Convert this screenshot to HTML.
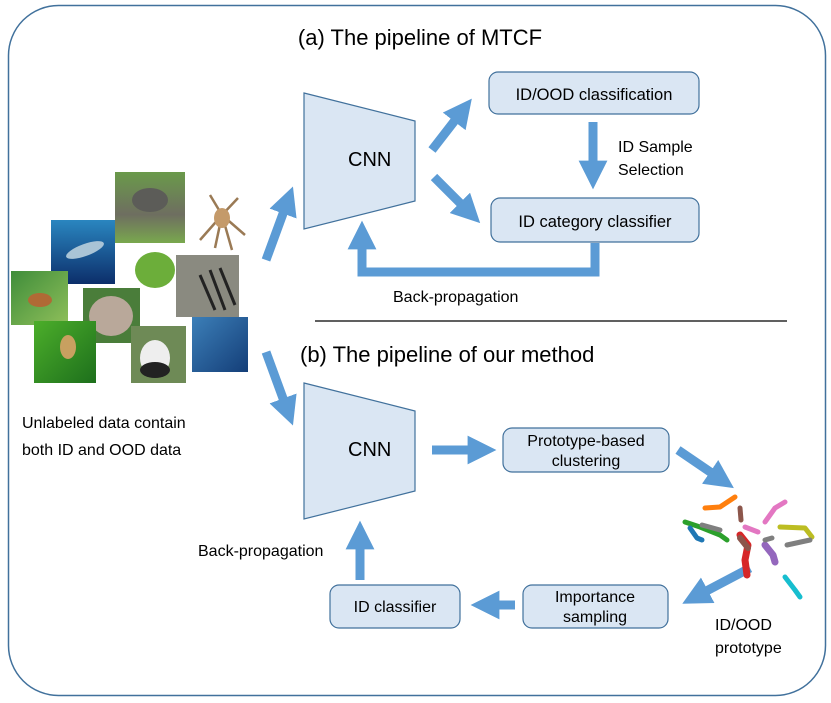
<!DOCTYPE html>
<html><head><meta charset="utf-8"><style>
body{margin:0;background:#fff;}
svg{display:block;font-family:"Liberation Sans",Calibri,sans-serif;}
</style></head><body>
<svg width="831" height="703" viewBox="0 0 831 703" xmlns="http://www.w3.org/2000/svg">
<defs>
<marker id="ah" viewBox="0 0 10 10" refX="5" refY="5" markerWidth="3.2" markerHeight="3.2" orient="auto" markerUnits="strokeWidth"><path d="M0,0 L10,5 L0,10 z" fill="#5b9bd5"/></marker>
<linearGradient id="g1" x1="0" y1="0" x2="0" y2="1"><stop offset="0" stop-color="#6a9a4a"/><stop offset="0.6" stop-color="#6e6e60"/><stop offset="1" stop-color="#79a84e"/></linearGradient>
<linearGradient id="g2" x1="0" y1="0" x2="0" y2="1"><stop offset="0" stop-color="#2a86c0"/><stop offset="1" stop-color="#0c2e6a"/></linearGradient>
<linearGradient id="g3" x1="0" y1="0" x2="1" y2="1"><stop offset="0" stop-color="#3f8d3a"/><stop offset="1" stop-color="#8fbf5a"/></linearGradient>
<linearGradient id="g4" x1="0" y1="0" x2="1" y2="1"><stop offset="0" stop-color="#4cae2a"/><stop offset="1" stop-color="#1d6f1c"/></linearGradient>
<linearGradient id="g5" x1="0" y1="0" x2="1" y2="1"><stop offset="0" stop-color="#3c7fb8"/><stop offset="1" stop-color="#143e78"/></linearGradient>
</defs>
<rect x="8.5" y="5.5" width="817" height="690" rx="50" fill="none" stroke="#41719c" stroke-width="1.5"/>
<text x="420" y="45" font-size="22" text-anchor="middle">(a) The pipeline of MTCF</text>
<line x1="315" y1="321" x2="787" y2="321" stroke="#000" stroke-width="1.2"/>
<text x="300" y="362" font-size="22">(b) The pipeline of our method</text>

<!-- images -->
<rect x="115" y="172" width="70" height="71" fill="url(#g1)"/>
<ellipse cx="150" cy="200" rx="18" ry="12" fill="#5c5c58"/>
<g stroke="#9a7a55" stroke-width="2.5" fill="none"><path d="M222 215 L200 240 M222 215 L245 235 M222 215 L210 195 M222 215 L238 198 M222 215 L215 248 M222 215 L232 250"/></g>
<ellipse cx="222" cy="218" rx="8" ry="10" fill="#c49a6a"/>
<rect x="51" y="220" width="64" height="64" fill="url(#g2)"/>
<ellipse cx="85" cy="250" rx="20" ry="6" fill="#a9c4d6" transform="rotate(-20 85 250)"/>
<rect x="11" y="271" width="57" height="54" fill="url(#g3)"/>
<ellipse cx="40" cy="300" rx="12" ry="7" fill="#b06a35"/>
<rect x="176" y="255" width="63" height="62" fill="#8a8a80"/>
<g stroke="#222" stroke-width="3"><line x1="200" y1="275" x2="215" y2="310"/><line x1="210" y1="270" x2="225" y2="310"/><line x1="220" y1="268" x2="235" y2="305"/></g>
<ellipse cx="155" cy="270" rx="20" ry="18" fill="#6cae3a"/>
<rect x="83" y="288" width="57" height="55" fill="#4a7d3a"/>
<ellipse cx="111" cy="316" rx="22" ry="20" fill="#b9a89a"/>
<rect x="34" y="321" width="62" height="62" fill="url(#g4)"/>
<ellipse cx="68" cy="347" rx="8" ry="12" fill="#c8a060"/>
<rect x="131" y="326" width="55" height="57" fill="#6e8a56"/>
<ellipse cx="155" cy="358" rx="15" ry="18" fill="#eee"/><ellipse cx="155" cy="370" rx="15" ry="8" fill="#222"/>
<rect x="192" y="317" width="56" height="55" fill="url(#g5)"/>

<text x="22" y="428" font-size="16">Unlabeled data contain</text>
<text x="22" y="455" font-size="16">both ID and OOD data</text>

<g stroke="#5b9bd5" stroke-width="9" fill="none" marker-end="url(#ah)">
<line x1="266" y1="260" x2="288" y2="200"/>
<line x1="266" y1="352" x2="288" y2="412"/>
<line x1="432" y1="150" x2="463" y2="110"/>
<line x1="434" y1="177" x2="470" y2="213"/>
<line x1="593" y1="122" x2="593" y2="175"/>
<polyline points="595,243 595,272 362,272 362,235"/>
<line x1="432" y1="450" x2="482" y2="450"/>
<line x1="678" y1="450" x2="722" y2="480"/>
<line x1="750" y1="568" x2="695" y2="597"/>
<line x1="515" y1="605" x2="485" y2="605"/>
<line x1="360" y1="580" x2="360" y2="535"/>
</g>

<polygon points="304,93 415,121 415,201 304,229" fill="#dae6f3" stroke="#41719c" stroke-width="1.2"/>
<text x="348" y="166" font-size="20">CNN</text>
<polygon points="304,383 415,411 415,491 304,519" fill="#dae6f3" stroke="#41719c" stroke-width="1.2"/>
<text x="348" y="456" font-size="20">CNN</text>

<rect x="489" y="72" width="210" height="42" rx="9" fill="#dae6f3" stroke="#41719c" stroke-width="1.2"/>
<text x="594" y="100" font-size="16.5" text-anchor="middle">ID/OOD classification</text>
<rect x="491" y="198" width="208" height="44" rx="9" fill="#dae6f3" stroke="#41719c" stroke-width="1.2"/>
<text x="595" y="227" font-size="16.5" text-anchor="middle">ID category classifier</text>
<text x="618" y="152" font-size="16">ID Sample</text>
<text x="618" y="175" font-size="16">Selection</text>
<text x="393" y="302" font-size="16">Back-propagation</text>

<rect x="503" y="428" width="166" height="44" rx="9" fill="#dae6f3" stroke="#41719c" stroke-width="1.2"/>
<text x="586" y="446" font-size="16" text-anchor="middle">Prototype-based</text>
<text x="586" y="466" font-size="16" text-anchor="middle">clustering</text>
<rect x="523" y="585" width="145" height="43" rx="9" fill="#dae6f3" stroke="#41719c" stroke-width="1.2"/>
<text x="595" y="602" font-size="16" text-anchor="middle">Importance</text>
<text x="595" y="622" font-size="16" text-anchor="middle">sampling</text>
<rect x="330" y="585" width="130" height="43" rx="9" fill="#dae6f3" stroke="#41719c" stroke-width="1.2"/>
<text x="395" y="612" font-size="16" text-anchor="middle">ID classifier</text>
<text x="198" y="556" font-size="16">Back-propagation</text>
<text x="715" y="630" font-size="16">ID/OOD</text>
<text x="715" y="653" font-size="16">prototype</text>

<!-- scatter -->
<g fill="none" stroke-linecap="round" stroke-linejoin="round" stroke-width="5">
<polyline points="705,508 720,507 735,497" stroke="#ff7f0e"/>
<polyline points="765,522 775,508 785,502" stroke="#e377c2"/>
<polyline points="685,522 700,527 720,535 727,540" stroke="#2ca02c"/>
<polyline points="690,528 697,538 702,540" stroke="#1f77b4"/>
<polyline points="702,525 720,530" stroke="#7f7f7f"/>
<polyline points="740,508 741,520" stroke="#8c564b"/>
<polyline points="740,535 748,545 745,560 747,575" stroke="#d62728" stroke-width="7"/>
<polyline points="745,527 758,532" stroke="#e377c2"/>
<polyline points="740,538 748,548" stroke="#8c564b" stroke-width="6"/>
<polyline points="765,545 773,555 775,562" stroke="#9467bd" stroke-width="7"/>
<polyline points="765,540 772,538" stroke="#7f7f7f"/>
<polyline points="780,527 805,528 812,537" stroke="#bcbd22"/>
<polyline points="787,545 810,540" stroke="#7f7f7f"/>
<polyline points="785,577 795,590 800,597" stroke="#17becf"/>
</g>
</svg>
</body></html>
